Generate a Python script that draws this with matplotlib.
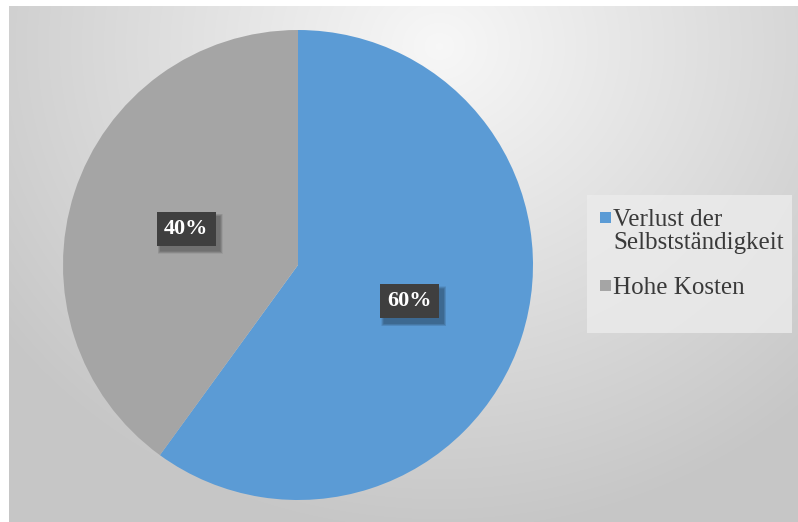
import matplotlib
matplotlib.use('Agg')
import matplotlib.pyplot as plt
import numpy as np
from matplotlib.patches import Rectangle
from matplotlib.transforms import IdentityTransform

labels = ['Verlust der\nSelbstständigkeit', 'Hohe Kosten']
shares = [60, 40]
colors = ['#5b9bd5', '#a5a5a5']

W, H = 798, 522
fig = plt.figure(figsize=(W / 100, H / 100), dpi=100)
fig.patch.set_facecolor('white')

# radial grey backdrop, brightest near the top centre
bg = fig.add_axes([9 / W, 0, 1 - 9 / W, 1 - 6 / H])
bg.set_axis_off()
yy, xx = np.mgrid[0:516, 0:789]
d = np.sqrt(((xx - 430) / 620.0) ** 2 + ((yy - 40) / 560.0) ** 2)
shade = np.clip(0.97 - 0.22 * d, 0.78, 0.97)
bg.imshow(np.dstack([shade] * 3), aspect='auto', interpolation='bilinear')

ax = fig.add_axes([63 / W, 22 / H, 470 / W, 470 / H])
ax.set_aspect('equal')
wedges, texts, autotexts = ax.pie(
    shares, colors=colors, startangle=90, counterclock=False,
    autopct='%d%%', pctdistance=0.5, radius=1.0,
    wedgeprops=dict(linewidth=0))
ax.set_xlim(-1.0, 1.0)
ax.set_ylim(-1.0, 1.0)

for t in autotexts:
    t.set_fontsize(16)
    t.set_fontweight('bold')
    t.set_family('Liberation Serif')
    t.set_color('white')
    t.set_zorder(5)
    t.set_bbox(dict(boxstyle='square,pad=0.32', fc='#3f3f3f', ec='none'))

# soft drop shadow under each value box (pixel coordinates, inside the pie axes)
fig.canvas.draw()
for t in autotexts:
    bb = t.get_bbox_patch().get_window_extent()
    for k in range(6):
        grow = 6 - k
        ax.add_patch(Rectangle(
            (bb.x0 + 4 - grow / 2, bb.y0 - 5 - grow / 2),
            bb.width + grow, bb.height + grow,
            transform=IdentityTransform(), fc='black', ec='none',
            alpha=0.06, zorder=3, clip_on=False))

# legend panel, entries placed by hand so the marker sits on the first line
fig.patches.append(Rectangle((587 / W, 1 - 333 / H), 205 / W, 138 / H,
                             transform=fig.transFigure, fc='#ececec', ec='none',
                             alpha=0.8, zorder=1))
baselines = [227, 295]
for lab, col, base in zip(labels, colors, baselines):
    fig.patches.append(Rectangle((600 / W, 1 - (base - 4) / H), 11 / W, 11 / H,
                                 transform=fig.transFigure, fc=col, ec='none',
                                 zorder=2))
    fig.text(613 / W, 1 - (base - 18) / H, lab, ha='left', va='top',
             family='Liberation Serif', fontsize=18, color='#3a3a3a',
             linespacing=1.05)

fig.savefig('out.png', dpi=100)
